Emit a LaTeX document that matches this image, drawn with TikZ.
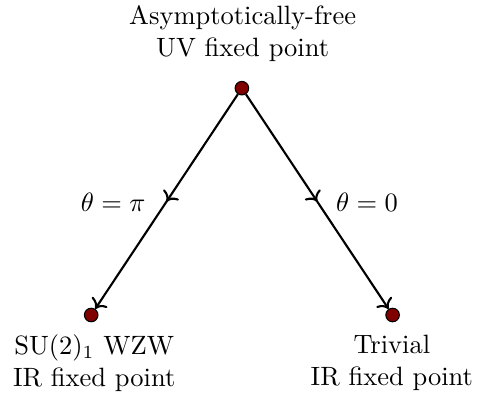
\documentclass[tikz,border=0pt]{standalone}
\usepackage{amsmath,amssymb}
\usepackage{tikz}
\usepackage{xcolor}
\usetikzlibrary{arrows.meta,positioning,decorations.markings}
\definecolor{fpred}{HTML}{800000}
\tikzset{
  fixedpt/.style={circle,draw=black,fill=fpred,line width=0.4pt,
                  minimum size=0.18cm,inner sep=0pt},
  fplabel/.style={align=center,inner sep=2pt},
  flowarr/.style={->,line width=0.8pt,
                  postaction={decorate},
                  decoration={markings,mark=at position 0.5 with {\arrow{>}}}},
  anglelabel/.style={inner sep=2pt}
}

\begin{document}
\begin{tikzpicture}[x=1cm,y=1cm]
  \useasboundingbox (0,0) rectangle (6.33,5.24);
  \node[fixedpt] (uv) at (3.21,4.07) {};
  \node[fixedpt] (wzw) at (1.21,1.06) {};
  \node[fixedpt] (triv) at (5.21,1.06) {};

  \node[fplabel] (uvlab) at (3.22,4.79) {Asymptotically-free\\UV fixed point};
  \node[fplabel] (wzwlab) at (1.25,0.42) {SU$(2)_1$ WZW\\IR fixed point};
  \node[fplabel] (trivlab) at (5.20,0.42) {Trivial\\IR fixed point};

  \draw[flowarr] (uv) -- (wzw);
  \draw[flowarr] (uv) -- (triv);

  \node[anglelabel] (tpi) at (1.50,2.55) {$\theta = \pi$};
  \node[anglelabel] (tzero) at (4.87,2.55) {$\theta = 0$};
\end{tikzpicture}
\end{document}
